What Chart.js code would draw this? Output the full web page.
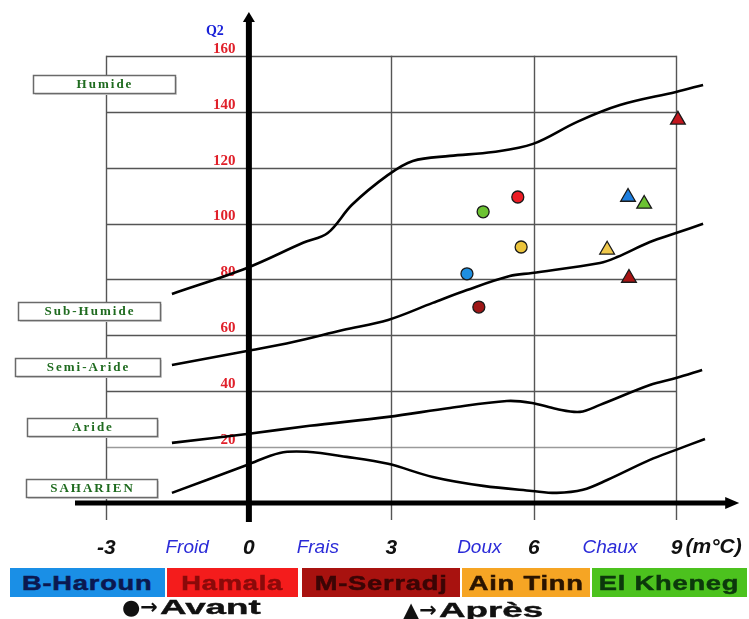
<!DOCTYPE html>
<html><head><meta charset="utf-8">
<script src="https://cdn.jsdelivr.net/npm/chart.js@4.4.1/dist/chart.umd.min.js"></script>
<style>
html,body{margin:0;padding:0;background:#fff;}
#wrap{position:relative;width:749px;height:619px;overflow:hidden;}
canvas{position:absolute;left:0;top:0;}
.leg{position:absolute;top:568px;height:29px;font:bold 21px 'Liberation Sans',Arial,sans-serif;line-height:30px;text-align:center;white-space:nowrap;overflow:hidden;}
.leg span{display:inline-block;transform:scaleX(1.3);letter-spacing:0.6px;-webkit-text-stroke:0.5px currentColor;}
.key{position:absolute;font:bold 21px 'Liberation Sans',Arial,sans-serif;color:#111;white-space:nowrap;line-height:26px;}
.key .t{display:inline-block;transform:scaleX(1.75);transform-origin:left center;-webkit-text-stroke:0.4px #111;margin-left:2px;}
.sym{font:bold 21px 'DejaVu Sans',sans-serif;display:inline-block;}
</style></head>
<body><div id="wrap"><canvas id="c" width="749" height="619"></canvas><div id="legend"></div></div>
<script>
// ---- data ----
const sites = ['B-Haroun','Hamala','M-Serradj','Ain Tinn','El Kheneg'];
const siteColors = ['#1a8fe6','#f41c1c','#a8120f','#f6a524','#4cc21e'];
const siteTextColors = ['#0b1850','#8a0a0a','#3a0505','#2a1400','#0c380c'];
const avantX = [4.59, 5.66, 4.84, 5.73, 4.93];
const avantY = [82.0, 109.5, 70.1, 91.6, 104.2];
const apresX = [7.98, 9.03, 8.00, 7.54, 8.32];
const apresY = [109.5, 137.1, 80.5, 90.6, 107.0];
const avantColors = ['#1e8fe0','#ec1c24','#9e1616','#ebc43c','#6cc232'];
const apresColors = ['#1e7fe0','#c2161e','#a81414','#efc84c','#6cc232'];

// climate zone boundaries (m in °C, Q2)
const humideX = [-1.62,-0.04,1.14,1.66,2.17,2.93,3.45,4.23,5.14,5.98,6.91,7.81,8.99,9.56];
const humideY = [74.8,84.1,93.1,96.6,106.7,117.4,122.4,124.2,125.6,128.5,136.4,142.4,147.1,149.6];
const subHumideX = [-1.62,-0.04,0.93,1.98,2.93,3.87,4.59,5.49,5.96,7.39,7.75,8.44,8.99,9.56];
const subHumideY = [49.4,54.4,57.6,61.9,65.5,71.6,76.2,81.2,82.3,85.9,88.0,93.4,96.6,99.9];
const semiAridX = [-1.62,-0.04,1.28,2.93,4.23,5.43,5.96,6.48,6.97,7.39,8.44,8.99,9.54];
const semiAridY = [21.5,24.7,27.6,30.8,34.0,36.5,35.8,33.6,32.6,35.1,42.2,44.7,47.6];
const arideX = [-1.62,-0.04,0.65,1.22,2.06,2.93,3.87,4.93,5.96,6.48,7.03,7.54,8.44,8.99,9.6];
const arideY = [3.6,13.6,17.9,18.3,16.5,14.0,9.3,6.1,4.3,3.6,4.7,8.2,15.4,19.0,22.9];

const zoneNames = ['Humide','Sub-Humide','Semi-Aride','Aride','SAHARIEN'];
const zoneLabelQ2 = [150, 68.7, 48.7, 27.2, 5.4];

const yTickValues = [20,40,60,80,100,120,140,160];
const xTickValues = [-3,0,3,6,9];
const tempClasses = ['Froid','Frais','Doux','Chaux'];
const tempClassX = [-1.3,1.45,4.85,7.6];
const xUnit = '(m°C)';
const yTitle = 'Q2';

// ---- build ----
const xTicks = xTickValues.map(v => ({v, label: String(v), kind: 'num'}))
  .concat(tempClasses.map((t, i) => ({v: tempClassX[i], label: t, kind: 'cls'})))
  .sort((a, b) => a.v - b.v);

const pts = (xs, ys) => xs.map((x, i) => ({x, y: ys[i]}));
const curve = (xs, ys) => ({type: 'line', data: pts(xs, ys), borderColor: '#000', borderWidth: 2.6,
  pointRadius: 0, tension: 0.35, fill: false, order: 2});

// legend HTML
const legBoxes = [[10,155],[167,131],[302,158],[462,128],[592,155]];
const legend = document.getElementById('legend');
sites.forEach((s, i) => {
  const d = document.createElement('div');
  d.className = 'leg';
  d.style.left = legBoxes[i][0] + 'px';
  d.style.width = legBoxes[i][1] + 'px';
  d.style.background = siteColors[i];
  d.style.color = siteTextColors[i];
  const sp = document.createElement('span');
  sp.textContent = s;
  d.appendChild(sp);
  legend.appendChild(d);
});
const k1 = document.createElement('div'); k1.className = 'key';
k1.style.left = '122px'; k1.style.top = '594px';
k1.innerHTML = '<span class="sym">\u25CF\u2192</span><span class="t">Avant</span>';
const k2 = document.createElement('div'); k2.className = 'key';
k2.style.left = '403px'; k2.style.top = '597px';
k2.innerHTML = '<span class="sym">\u25B2\u2192</span><span class="t">Apr\u00e8s</span>';
legend.appendChild(k1); legend.appendChild(k2);

const decor = {
  id: 'decor',
  beforeDatasetsDraw(chart) {
    const {ctx, chartArea: ca, scales: {x, y}} = chart;
    ctx.save();
    const gx0 = x.getPixelForValue(-3), gx1 = x.getPixelForValue(9);
    // horizontal grid
    yTickValues.forEach(v => {
      const py = Math.round(y.getPixelForValue(v)) + 0.5;
      ctx.strokeStyle = v <= 20 ? '#9a9a9a' : '#555';
      ctx.lineWidth = 1.4;
      ctx.beginPath(); ctx.moveTo(gx0, py); ctx.lineTo(gx1, py); ctx.stroke();
    });
    // vertical grid
    const top = y.getPixelForValue(160);
    xTickValues.filter(v => v !== 0).forEach(v => {
      const px = Math.round(x.getPixelForValue(v)) + 0.5;
      ctx.strokeStyle = '#555'; ctx.lineWidth = 1.4;
      ctx.beginPath(); ctx.moveTo(px, top); ctx.lineTo(px, ca.bottom); ctx.stroke();
    });
    // axes
    const ox = x.getPixelForValue(0), oy = y.getPixelForValue(0);
    ctx.strokeStyle = '#000'; ctx.fillStyle = '#000';
    ctx.lineWidth = 5;
    ctx.beginPath(); ctx.moveTo(ca.left, oy); ctx.lineTo(ca.right - 10, oy); ctx.stroke();
    ctx.beginPath(); ctx.moveTo(ca.right, oy); ctx.lineTo(ca.right - 14, oy - 6); ctx.lineTo(ca.right - 14, oy + 6); ctx.closePath(); ctx.fill();
    ctx.lineWidth = 6;
    ctx.beginPath(); ctx.moveTo(ox, ca.bottom + 2); ctx.lineTo(ox, ca.top + 8); ctx.stroke();
    ctx.beginPath(); ctx.moveTo(ox, ca.top); ctx.lineTo(ox - 6, ca.top + 10); ctx.lineTo(ox + 6, ca.top + 10); ctx.closePath(); ctx.fill();
    // zone boxes
    const boxes = [[33,142],[18,142],[15,145],[27,130],[26,131]];
    ctx.font = 'bold 13px "Liberation Serif", serif';
    ctx.textAlign = 'center'; ctx.textBaseline = 'middle';
    try { ctx.letterSpacing = '2px'; } catch (e) {}
    zoneNames.forEach((n, i) => {
      const cy = Math.round(y.getPixelForValue(zoneLabelQ2[i]));
      const [bx, bw] = boxes[i];
      ctx.fillStyle = '#d8d8d8';
      ctx.fillRect(bx + 2, cy - 9 + 2, bw, 18);
      ctx.fillStyle = '#fff';
      ctx.fillRect(bx, cy - 9, bw, 18);
      ctx.strokeStyle = '#6a6a6a'; ctx.lineWidth = 1.5;
      ctx.strokeRect(bx + 0.5, cy - 9 + 0.5, bw, 18);
      ctx.fillStyle = '#1f6b1f';
      ctx.fillText(n, bx + bw / 2 + 1, cy + 1);
    });
    try { ctx.letterSpacing = '0px'; } catch (e) {}
    // Q2 title
    ctx.fillStyle = '#1a22d8';
    ctx.font = 'bold 14px "Liberation Serif", serif';
    ctx.textAlign = 'center';
    ctx.fillText(yTitle, ox - 34, 31);
    ctx.restore();
  },
  afterDraw(chart) {
    const {ctx, scales: {x}} = chart;
    ctx.save();
    ctx.fillStyle = '#111';
    ctx.font = 'italic bold 21px "Liberation Sans Narrow", "Liberation Sans", sans-serif';
    ctx.textAlign = 'left'; ctx.textBaseline = 'top';
    ctx.fillText(xUnit, x.getPixelForValue(9) + 9, x.top + 17);
    ctx.restore();
  }
};

new Chart(document.getElementById('c'), {
  type: 'scatter',
  data: {
    datasets: [
      curve(humideX, humideY),
      curve(subHumideX, subHumideY),
      curve(semiAridX, semiAridY),
      curve(arideX, arideY),
      {label: 'Avant', data: pts(avantX, avantY), pointStyle: 'circle', pointRadius: 6,
        backgroundColor: avantColors, borderColor: '#1a1a1a', borderWidth: 1.3, order: 1},
      {label: 'Après', data: pts(apresX, apresY), pointStyle: 'triangle', pointRadius: 8.5,
        backgroundColor: apresColors, borderColor: '#1a1a1a', borderWidth: 1.3, order: 1}
    ]
  },
  options: {
    responsive: false, animation: false,
    layout: {padding: {left: 75, right: 9, top: 12, bottom: 0}},
    plugins: {legend: {display: false}, tooltip: {enabled: false}},
    scales: {
      x: {
        type: 'linear', min: -3.66, max: 10.32,
        afterFit: s => { s.height = 99; s.paddingLeft = 0; s.paddingRight = 0; },
        afterBuildTicks: s => { s.ticks = xTicks.map(t => ({value: t.v})); },
        grid: {display: false}, border: {display: false},
        ticks: {
          autoSkip: false, maxRotation: 0, minRotation: 0, padding: 8,
          callback: (v, i) => xTicks[i] ? xTicks[i].label : '',
          color: ctx => (xTicks[ctx.index] && xTicks[ctx.index].kind === 'cls') ? '#2b2bd8' : '#111',
          font: ctx => (xTicks[ctx.index] && xTicks[ctx.index].kind === 'cls')
            ? {family: '"Liberation Sans", Arial, sans-serif', size: 19, style: 'italic'}
            : {family: '"Liberation Sans Narrow", "Liberation Sans", sans-serif', size: 21, style: 'italic', weight: 'bold'}
        }
      },
      y: {
        type: 'linear', min: -6.1, max: 175.7,
        afterFit: s => { s.width = 0; s.paddingTop = 0; s.paddingBottom = 0; },
        afterBuildTicks: s => { s.ticks = yTickValues.map(v => ({value: v})); },
        grid: {display: false}, border: {display: false},
        ticks: {
          mirror: true, crossAlign: 'far', padding: 138, labelOffset: -7,
          color: '#e0202a',
          font: {family: '"Liberation Serif", serif', size: 15, weight: 'bold'}
        }
      }
    }
  },
  plugins: [decor]
});
</script>
</body></html>
